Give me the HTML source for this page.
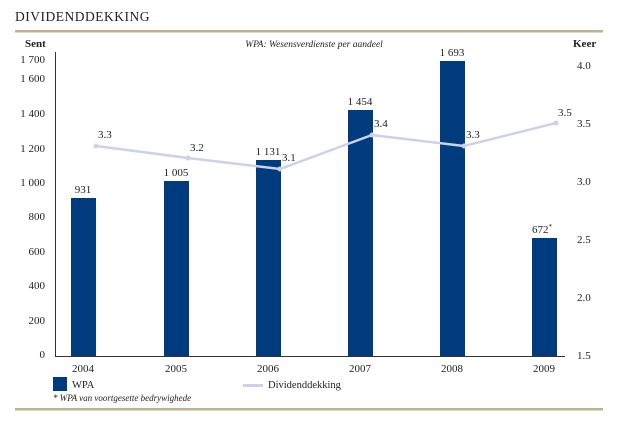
<!DOCTYPE html>
<html><head><meta charset="utf-8"><style>
body{margin:0;background:#fff;width:630px;height:425px;overflow:hidden}
text{font-family:"Liberation Serif",serif;fill:#222}
</style></head><body>
<svg width="630" height="425" viewBox="0 0 630 425" xmlns="http://www.w3.org/2000/svg">
<text x="15" y="21" font-size="13.5" letter-spacing="0.5" fill="#333">DIVIDENDDEKKING</text>
<rect x="15" y="30" width="588" height="2.5" fill="#bfb28e"/>
<rect x="15" y="408" width="588" height="2.5" fill="#bfb28e"/>
<text x="25" y="47" font-size="11" font-weight="bold">Sent</text>
<text x="314" y="47" font-size="9.5" font-style="italic" text-anchor="middle">WPA: Wesensverdienste per aandeel</text>
<text x="573" y="47" font-size="11" font-weight="bold">Keer</text>
<g font-size="11" text-anchor="end">
<text x="45" y="63">1 700</text><text x="45" y="82">1 600</text><text x="45" y="117">1 400</text>
<text x="45" y="152">1 200</text><text x="45" y="186">1 000</text><text x="45" y="220">800</text>
<text x="45" y="255">600</text><text x="45" y="289">400</text><text x="45" y="324">200</text><text x="45" y="358">0</text>
</g>
<g font-size="11">
<text x="577" y="69">4.0</text><text x="577" y="127">3.5</text><text x="577" y="185">3.0</text>
<text x="577" y="243">2.5</text><text x="577" y="301">2.0</text><text x="577" y="359">1.5</text>
</g>
<line x1="55.5" y1="52" x2="55.5" y2="356" stroke="#333" stroke-width="1"/>
<line x1="55" y1="356.5" x2="565" y2="356.5" stroke="#333" stroke-width="1"/>
<g fill="#003c7d">
<rect x="71" y="198" width="25" height="158"/>
<rect x="164" y="181" width="25" height="175"/>
<rect x="256" y="160" width="25" height="196"/>
<rect x="348" y="110" width="25" height="246"/>
<rect x="440" y="61" width="25" height="295"/>
<rect x="532" y="238" width="25" height="118"/>
</g>
<polyline points="96,146 188,158 280,169 372,135 464,146 556,123" fill="none" stroke="#cdd2ea" stroke-width="2.5"/>
<g fill="#cdd2ea"><circle cx="96" cy="146" r="2.5"/><circle cx="188" cy="158" r="2.5"/><circle cx="280" cy="169" r="2.5"/><circle cx="372" cy="135" r="2.5"/><circle cx="464" cy="146" r="2.5"/><circle cx="556" cy="123" r="2.5"/></g>
<g font-size="11" text-anchor="middle">
<text x="83" y="193">931</text><text x="176" y="176">1 005</text><text x="268" y="155">1 131</text>
<text x="360" y="105">1 454</text><text x="452" y="56">1 693</text><text x="542" y="233">672<tspan font-size="7" dy="-4">*</tspan></text>
</g>
<g font-size="11">
<text x="98" y="138">3.3</text><text x="190" y="151">3.2</text><text x="282" y="161">3.1</text>
<text x="374" y="127">3.4</text><text x="466" y="138">3.3</text><text x="558" y="116">3.5</text>
</g>
<g font-size="11" text-anchor="middle">
<text x="83" y="372">2004</text><text x="176" y="372">2005</text><text x="268" y="372">2006</text>
<text x="360" y="372">2007</text><text x="452" y="372">2008</text><text x="544" y="372">2009</text>
</g>
<rect x="53" y="377" width="14" height="14" fill="#003c7d"/>
<text x="72" y="388" font-size="10.5" fill="#444">WPA</text>
<rect x="243" y="384" width="20" height="3" fill="#cdd2ea"/>
<text x="268" y="388" font-size="10.5" fill="#444">Dividenddekking</text>
<text x="53" y="401" font-size="9" font-style="italic" fill="#444">* WPA van voortgesette bedrywighede</text>
</svg>
</body></html>
